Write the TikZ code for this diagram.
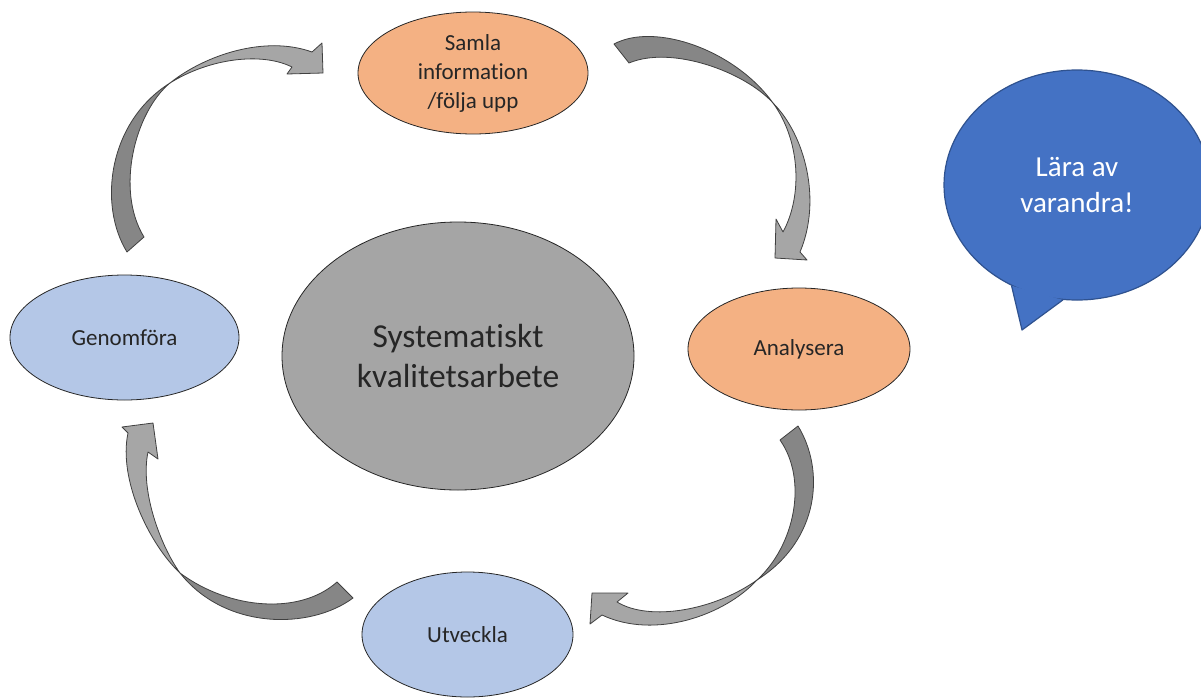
\documentclass[tikz,border=0pt]{standalone}
\usepackage{fontspec}
\setmainfont{Carlito}[Ligatures={NoCommon}]
\usetikzlibrary{shapes.geometric}
\definecolor{orangefas}{HTML}{F4B183}
\definecolor{blafas}{HTML}{B4C7E7}
\definecolor{mittgra}{HTML}{A5A5A5}
\definecolor{bubbelbla}{HTML}{4472C4}
\definecolor{bubbelkant}{HTML}{2F528F}
\definecolor{pilljus}{HTML}{A6A6A6}
\definecolor{pilmork}{HTML}{868686}
\tikzset{
  fas/.style={ellipse,draw=black!85,line width=0.8pt,inner sep=0pt,align=center,
    text=black!85,font=\fontsize{23}{29}\selectfont},
  ljus/.style={fill=pilljus,draw=black!75,line width=0.8pt,line join=round},
  mork/.style={fill=pilmork,draw=black!75,line width=0.8pt,line join=round}
}
\begin{document}
\begin{tikzpicture}[x=1pt,y=-1pt]
\useasboundingbox (0,0) rectangle (1201,699);
% faserna
\node[fas,fill=orangefas,minimum width=230pt,minimum height=122pt](samla)at(473,73){Samla\\information\\/följa upp};
\node[fas,fill=orangefas,minimum width=222pt,minimum height=122pt](analys)at(799,349){Analysera};
\node[fas,fill=blafas,minimum width=211pt,minimum height=125pt](utveckla)at(467.5,634.5){Utveckla};
\node[fas,fill=blafas,minimum width=229pt,minimum height=125pt](genomfora)at(124.5,337.5){Genomföra};
\node[fas,fill=mittgra,minimum width=352pt,minimum height=268pt,
  font=\fontsize{33.5}{40}\selectfont](mitt)at(458,356){Systematiskt\\kvalitetsarbete};
% pilarna, mork baksida och ljus framsida
\filldraw[mork](614,44)..controls(655,22)and(735,50)..(773,103)..controls(745,72)and(672,45)..(629,63)--cycle;
\filldraw[ljus](773,103)..controls(805,135)and(822,200)..(800,252)--(807,260)--(775,258)--(776,219)--(783,232)
  ..controls(803,195)and(800,140)..(773,103)--cycle;
\filldraw[mork](798,426)..controls(825,470)and(820,540)..(757,580)..controls(795,545)and(808,480)..(780,440)--cycle;
\filldraw[ljus](757,580)..controls(725,615)and(655,640)..(602,615)--(590,624)--(592,593)--(628,593)--(617,602)
  ..controls(650,622)and(715,610)..(757,580)--cycle;
\filldraw[mork](353,598)..controls(310,630)and(225,630)..(180,573)..controls(230,610)and(300,615)..(337,582)--cycle;
\filldraw[ljus](180,573)..controls(150,545)and(118,480)..(128,433)--(122,427)--(153,423)--(158,459)--(148,452)
  ..controls(140,490)and(160,545)..(180,573)--cycle;
\filldraw[mork](127,252)..controls(98,205)and(108,122)..(170,83)..controls(135,112)and(115,190)..(144,237)--cycle;
\filldraw[ljus](170,83)..controls(205,55)and(265,35)..(312,52)--(322,43)--(323,73)--(287,74)--(292,67)
  ..controls(262,52)and(210,58)..(170,83)--cycle;
% pratbubbla
\node[ellipse,fill=bubbelbla,draw=bubbelkant,line width=1.2pt,inner sep=0pt,minimum width=266pt,minimum height=230pt,
  align=center,text=white,font=\fontsize{29}{36}\selectfont](bubbla)at(1077,185){Lära av\\varandra!};
\coordinate(spets)at(1022,330);
\fill[bubbelbla](bubbla.237)--(spets)--(bubbla.263)--cycle;
\draw[bubbelkant,line width=1.2pt,line join=round](bubbla.237)--(spets)--(bubbla.263);
\end{tikzpicture}
\end{document}
